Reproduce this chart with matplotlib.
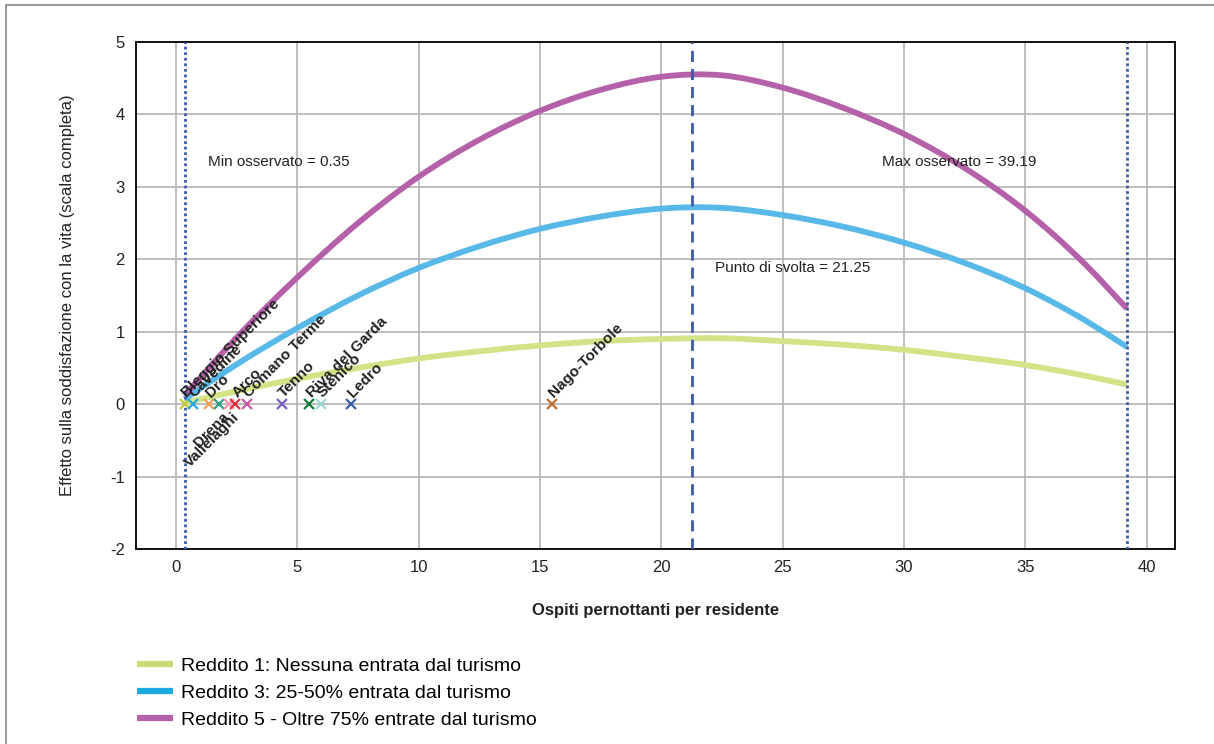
import numpy as np
import matplotlib.pyplot as plt
from matplotlib.patches import Rectangle, PathPatch
from matplotlib.path import Path

plt.rcParams['font.family'] = ['Liberation Sans', 'DejaVu Sans']
plt.rcParams['axes.unicode_minus'] = False

# Data
x_vals = [0.35, 2.5, 5, 7.5, 10, 12.5, 15, 17.5, 20, 22.5, 25, 27.5, 30, 32.5, 35, 37.5, 39.19]
reddito1 = [0.02, 0.18, 0.35, 0.50, 0.63, 0.73, 0.81, 0.87, 0.90, 0.91, 0.87, 0.82, 0.75, 0.65, 0.54, 0.39, 0.27]
reddito3 = [0.07, 0.55, 1.05, 1.50, 1.88, 2.18, 2.42, 2.59, 2.70, 2.71, 2.61, 2.45, 2.23, 1.95, 1.60, 1.15, 0.79]
reddito5 = [0.12, 0.92, 1.75, 2.50, 3.14, 3.65, 4.05, 4.34, 4.52, 4.54, 4.37, 4.09, 3.73, 3.26, 2.67, 1.92, 1.32]

series_labels = ["Reddito 1: Nessuna entrata dal turismo",
                 "Reddito 3: 25-50% entrata dal turismo",
                 "Reddito 5 - Oltre 75% entrate dal turismo"]

comuni = ["Bleggio Superiore", "Cavedine", "Dro", "Drena", "Vallelaghi", "Arco",
          "Comano Terme", "Tenno", "Riva del Garda", "Stenico", "Ledro", "Nago-Torbole"]
comuni_x = [0.35, 0.69, 1.35, 1.79, 2.20, 2.45, 2.92, 4.35, 5.50, 5.97, 7.22, 15.50]
comuni_colors = ["#c2cc3a", "#27a9e1", "#f7a055", "#2e9e88", "#f29bb0", "#e8303f",
                 "#c55aa5", "#7b62b8", "#137a3c", "#9ed9d6", "#3f5fa8", "#c0732e"]

x_min, x_max, x_turn = 0.35, 39.19, 21.25

line_colors = ["#d2e388", "#58b9e8", "#b561aa"]
legend_colors = ["#c9dd72", "#1ea8e0", "#b462a9"]


def smooth_path(xs, ys):
    # smoothed line (cubic Hermite segments through the points, like a spreadsheet "smooth line")
    xs = np.asarray(xs, float)
    ys = np.asarray(ys, float)
    m = np.gradient(ys, xs)
    verts = [(xs[0], ys[0])]
    codes = [Path.MOVETO]
    for i in range(len(xs) - 1):
        h = xs[i + 1] - xs[i]
        verts += [(xs[i] + h / 3, ys[i] + m[i] * h / 3),
                  (xs[i + 1] - h / 3, ys[i + 1] - m[i + 1] * h / 3),
                  (xs[i + 1], ys[i + 1])]
        codes += [Path.CURVE4] * 3
    return Path(verts, codes)


fig = plt.figure(figsize=(12.14, 7.44), dpi=100)
ax = fig.add_axes([136 / 1214, 1 - 549 / 744, (1174.5 - 136) / 1214, (549 - 42) / 744])

ax.grid(True, color="#b3b3b3", lw=1.2)
ax.set_axisbelow(True)

for ys, c in zip([reddito1, reddito3, reddito5], line_colors):
    ax.add_patch(PathPatch(smooth_path(x_vals, ys), fill=False, edgecolor=c, lw=4.2,
                           capstyle='butt', zorder=3))

ax.axvline(x_min, color="#3d5aa5", ls=(0, (1, 1)), lw=2, zorder=4)
ax.axvline(x_max, color="#3d5aa5", ls=(0, (1, 1)), lw=2, zorder=4)
ax.axvline(x_turn, color="#3d5aa5", ls=(0, (4, 2.5)), lw=2, zorder=4)

ax.text(1.3, 3.34, "Min osservato = 0.35", fontsize=11, va='center', ha='left', color="#222222")
ax.text(29.1, 3.34, "Max osservato = 39.19", fontsize=11, va='center', ha='left', color="#222222")
ax.text(22.2, 1.88, "Punto di svolta = 21.25", fontsize=11, va='center', ha='left', color="#222222")

below = {"Drena", "Vallelaghi"}
for name, xv, c in zip(comuni, comuni_x, comuni_colors):
    ax.plot(xv, 0, marker='x', color=c, ms=7, mew=1.6, ls='none', zorder=5)
    if name in below:
        ax.annotate(name, (xv, 0), xytext=(2, -4), textcoords='offset points',
                    rotation=45, rotation_mode='anchor', ha='right', va='top',
                    fontsize=11, fontweight='bold', color="#222222", zorder=6)
    else:
        ax.annotate(name, (xv, 0), xytext=(3, 3), textcoords='offset points',
                    rotation=45, rotation_mode='anchor', ha='left', va='bottom',
                    fontsize=11, fontweight='bold', color="#222222", zorder=6)

ax.set_xlim(-1.65, 41.15)
ax.set_ylim(-2, 5)
ax.set_xticks(range(0, 41, 5))
ax.set_yticks(range(-2, 6))
ax.tick_params(length=0, labelsize=12, pad=8, colors="#222222")
for s in ax.spines.values():
    s.set_color("#111111")
    s.set_linewidth(1.4)

ax.set_xlabel("Ospiti pernottanti per residente", fontsize=12, fontweight='bold',
              color="#222222", labelpad=20)
ax.set_ylabel("Effetto sulla soddisfazione con la vita (scala completa)", fontsize=12,
              color="#222222", labelpad=25)

handles = [plt.Line2D([], [], color=c, lw=4.5, solid_capstyle='butt') for c in legend_colors]
fig.legend(handles, series_labels, loc='upper left', bbox_to_anchor=(137 / 1214, 1 - 657 / 744),
           frameon=False, fontsize=14, handlelength=1.85, handletextpad=0.4, labelspacing=0.5,
           borderaxespad=0, borderpad=0)

fig.patches.append(Rectangle((6 / 1214, -0.1), 1.2, 1.1 - 5 / 744, transform=fig.transFigure,
                             fill=False, edgecolor="#888888", lw=1.2))

fig.savefig("out.png", dpi=100)
